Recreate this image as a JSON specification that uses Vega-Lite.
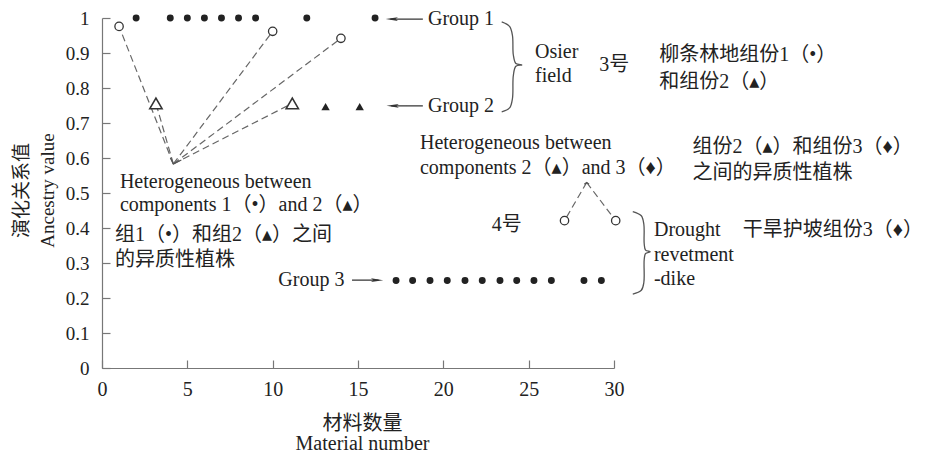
{
  "$schema": "https://vega.github.io/schema/vega-lite/v6.json",
  "width": 512,
  "height": 350,
  "autosize": {"type": "none"},
  "padding": {"left": 102, "top": 18, "right": 318, "bottom": 86},
  "background": "white",
  "config": {
    "view": {"stroke": null},
    "font": "Liberation Serif, Noto Sans CJK SC",
    "axis": {"labelOverlap": false, "labelBound": false, "labelFlush": false, "labelSeparation": 0}
  },
  "datasets": {
    "points": [
      {"x": 2, "y": 1, "kind": "fc"}, {"x": 4, "y": 1, "kind": "fc"}, {"x": 5, "y": 1, "kind": "fc"},
      {"x": 6, "y": 1, "kind": "fc"}, {"x": 7, "y": 1, "kind": "fc"}, {"x": 8, "y": 1, "kind": "fc"},
      {"x": 9, "y": 1, "kind": "fc"}, {"x": 12, "y": 1, "kind": "fc"}, {"x": 16, "y": 1, "kind": "fc"},
      {"x": 17.23, "y": 0.25, "kind": "fc"}, {"x": 18.2, "y": 0.25, "kind": "fc"}, {"x": 19.22, "y": 0.25, "kind": "fc"},
      {"x": 20.23, "y": 0.25, "kind": "fc"}, {"x": 21.27, "y": 0.25, "kind": "fc"}, {"x": 22.28, "y": 0.25, "kind": "fc"},
      {"x": 23.32, "y": 0.25, "kind": "fc"}, {"x": 24.3, "y": 0.25, "kind": "fc"}, {"x": 25.31, "y": 0.25, "kind": "fc"},
      {"x": 26.33, "y": 0.25, "kind": "fc"}, {"x": 28.24, "y": 0.25, "kind": "fc"}, {"x": 29.26, "y": 0.25, "kind": "fc"},
      {"x": 1, "y": 0.976, "kind": "oc"}, {"x": 10, "y": 0.962, "kind": "oc"}, {"x": 14, "y": 0.942, "kind": "oc"},
      {"x": 27.1, "y": 0.421, "kind": "oc"}, {"x": 30.1, "y": 0.421, "kind": "oc"},
      {"x": 3.16, "y": 0.756, "kind": "ot"}, {"x": 11.15, "y": 0.756, "kind": "ot"},
      {"x": 13.1, "y": 0.747, "kind": "ft"}, {"x": 15.1, "y": 0.747, "kind": "ft"}
    ],
    "segs": [
      {"x": 4.18, "y": 0.583, "x2": 1, "y2": 0.976, "kind": "dash"},
      {"x": 4.18, "y": 0.583, "x2": 3.16, "y2": 0.756, "kind": "dash"},
      {"x": 4.18, "y": 0.583, "x2": 10, "y2": 0.962, "kind": "dash"},
      {"x": 4.18, "y": 0.583, "x2": 14, "y2": 0.942, "kind": "dash"},
      {"x": 4.18, "y": 0.583, "x2": 11.15, "y2": 0.756, "kind": "dash"},
      {"x": 28.4, "y": 0.53, "x2": 27.1, "y2": 0.421, "kind": "dash"},
      {"x": 28.4, "y": 0.53, "x2": 30.1, "y2": 0.421, "kind": "dash"},
      {"x": 16.9, "y": 0.997, "x2": 18.8, "y2": 0.997, "kind": "solid"},
      {"x": 16.95, "y": 0.749, "x2": 18.8, "y2": 0.749, "kind": "solid"},
      {"x": 14.65, "y": 0.251, "x2": 16.2, "y2": 0.251, "kind": "solid"}
    ],
    "heads": [
      {"x": 16.98, "y": 0.997, "dir": "left"},
      {"x": 17.03, "y": 0.749, "dir": "left"},
      {"x": 16.12, "y": 0.251, "dir": "right"}
    ],
    "chevrons": [
      {"x": 4.18, "y": 0.583},
      {"x": 28.4, "y": 0.53}
    ],
    "braces": [
      {"b": 1, "o": 1, "x": 23.42, "y": 0.989}, {"b": 1, "o": 2, "x": 23.88, "y": 0.976},
      {"b": 1, "o": 3, "x": 24.05, "y": 0.95}, {"b": 1, "o": 4, "x": 24.1, "y": 0.895},
      {"b": 1, "o": 5, "x": 24.25, "y": 0.87}, {"b": 1, "o": 6, "x": 24.6, "y": 0.866},
      {"b": 1, "o": 7, "x": 24.25, "y": 0.862}, {"b": 1, "o": 8, "x": 24.1, "y": 0.835},
      {"b": 1, "o": 9, "x": 24.05, "y": 0.77}, {"b": 1, "o": 10, "x": 23.88, "y": 0.743},
      {"b": 1, "o": 11, "x": 23.42, "y": 0.732},
      {"b": 2, "o": 1, "x": 31.1, "y": 0.447}, {"b": 2, "o": 2, "x": 31.6, "y": 0.435},
      {"b": 2, "o": 3, "x": 31.75, "y": 0.41}, {"b": 2, "o": 4, "x": 31.77, "y": 0.355},
      {"b": 2, "o": 5, "x": 31.85, "y": 0.337}, {"b": 2, "o": 6, "x": 32.12, "y": 0.332},
      {"b": 2, "o": 7, "x": 31.85, "y": 0.327}, {"b": 2, "o": 8, "x": 31.77, "y": 0.31},
      {"b": 2, "o": 9, "x": 31.75, "y": 0.245}, {"b": 2, "o": 10, "x": 31.6, "y": 0.222},
      {"b": 2, "o": 11, "x": 31.1, "y": 0.211}
    ],
    "texts": [
      {"t": "Group 1", "x": 19.1, "y": 0.996},
      {"t": "Group 2", "x": 19.1, "y": 0.749},
      {"t": "Osier", "x": 25.37, "y": 0.904},
      {"t": "field", "x": 25.37, "y": 0.834},
      {"t": "3号", "x": 29.14, "y": 0.866},
      {"t": "柳条林地组份1（•）", "x": 32.65, "y": 0.894},
      {"t": "和组份2（▴）", "x": 32.65, "y": 0.818},
      {"t": "Heterogeneous between", "x": 18.63, "y": 0.642},
      {"t": "components 2（▴）and 3（♦）", "x": 18.63, "y": 0.571},
      {"t": "组份2（▴）和组份3（♦）", "x": 34.6, "y": 0.632},
      {"t": "之间的异质性植株", "x": 34.6, "y": 0.556},
      {"t": "Heterogeneous between", "x": 1.05, "y": 0.532},
      {"t": "components 1（•）and 2（▴）", "x": 1.05, "y": 0.466},
      {"t": "组1（•）和组2（▴）之间", "x": 0.76, "y": 0.38},
      {"t": "的异质性植株", "x": 0.76, "y": 0.309},
      {"t": "Group 3", "x": 10.33, "y": 0.251},
      {"t": "4号", "x": 22.83, "y": 0.409},
      {"t": "Drought", "x": 32.34, "y": 0.394},
      {"t": "revetment", "x": 32.34, "y": 0.323},
      {"t": "-dike", "x": 32.34, "y": 0.253},
      {"t": "干旱护坡组份3（♦）", "x": 37.54, "y": 0.394}
    ]
  },
  "layer": [
    {
      "data": {"name": "segs"},
      "mark": {"type": "rule", "strokeWidth": 1.2},
      "encoding": {
        "x": {
          "field": "x", "type": "quantitative",
          "scale": {"domain": [0, 30], "nice": false, "zero": false},
          "axis": {
            "values": [0, 5, 10, 15, 20, 25, 30],
            "grid": false, "labelOverlap": false,
            "domainColor": "#777", "tickColor": "#777", "domainWidth": 1.2, "tickWidth": 1.2,
            "tickSize": -8, "labelPadding": 19,
            "labelFont": "Liberation Serif", "labelFontSize": 20, "labelColor": "#222",
            "title": ["材料数量", "Material number"],
            "titleFont": "Liberation Serif, Noto Sans CJK SC", "titleFontSize": 20, "titleFontWeight": "normal",
            "titleColor": "#222", "titleLineHeight": 20,
            "titleX": 260, "titleY": 45, "titleAlign": "center", "titleBaseline": "top"
          }
        },
        "y": {
          "field": "y", "type": "quantitative",
          "scale": {"domain": [0, 1], "nice": false, "zero": false},
          "axis": {
            "tickCount": 10,
            "format": "~g",
            "grid": false, "labelOverlap": false,
            "domainColor": "#777", "tickColor": "#777", "domainWidth": 1.2, "tickWidth": 1.2,
            "tickSize": -8, "labelPadding": 21,
            "labelFont": "Liberation Serif", "labelFontSize": 19, "labelColor": "#222",
            "title": ["演化关系值", "Ancestry value"],
            "titleFont": "Liberation Serif, Noto Sans CJK SC", "titleFontSize": 19, "titleFontWeight": "normal",
            "titleColor": "#222", "titleLineHeight": 26,
            "titleX": -90, "titleY": 172, "titleAlign": "center", "titleBaseline": "top", "titleAngle": -90
          }
        },
        "x2": {"field": "x2"},
        "y2": {"field": "y2"},
        "strokeDash": {
          "field": "kind", "type": "nominal",
          "scale": {"domain": ["dash", "solid"], "range": [[7, 4], [1, 0]]},
          "legend": null
        },
        "color": {
          "field": "kind", "type": "nominal",
          "scale": {"domain": ["dash", "solid"], "range": ["#666", "#333"]},
          "legend": null
        }
      }
    },
    {
      "data": {"name": "heads"},
      "mark": {"type": "point", "filled": true, "size": 150, "color": "#333", "opacity": 1},
      "encoding": {
        "x": {"field": "x", "type": "quantitative"},
        "y": {"field": "y", "type": "quantitative"},
        "shape": {
          "field": "dir", "type": "nominal",
          "scale": {"domain": ["left", "right"], "range": ["M-1,0L1,-0.3L0.6,0L1,0.3Z", "M1,0L-1,-0.3L-0.6,0L-1,0.3Z"]},
          "legend": null
        }
      }
    },
    {
      "data": {"name": "chevrons"},
      "transform": [{"filter": "datum.x < 10"}],
      "mark": {"type": "point", "filled": false, "shape": "M-0.6,-1.2L0,0L1.6,-0.8", "size": 100, "stroke": "#555", "strokeWidth": 1.2, "opacity": 1},
      "encoding": {
        "x": {"field": "x", "type": "quantitative"},
        "y": {"field": "y", "type": "quantitative"}
      }
    },
    {
      "data": {"name": "chevrons"},
      "transform": [{"filter": "datum.x > 10"}],
      "mark": {"type": "point", "filled": false, "shape": "M-0.8,0.6L0,0L0.8,0.6", "size": 36, "stroke": "#555", "strokeWidth": 1.2, "opacity": 1},
      "encoding": {
        "x": {"field": "x", "type": "quantitative"},
        "y": {"field": "y", "type": "quantitative"}
      }
    },
    {
      "data": {"name": "braces"},
      "mark": {"type": "line", "interpolate": "catmull-rom", "color": "#555", "strokeWidth": 1.3},
      "encoding": {
        "x": {"field": "x", "type": "quantitative"},
        "y": {"field": "y", "type": "quantitative"},
        "detail": {"field": "b"},
        "order": {"field": "o", "type": "quantitative"}
      }
    },
    {
      "data": {"name": "points"},
      "transform": [{"filter": "datum.kind == 'fc'"}],
      "mark": {"type": "point", "shape": "circle", "filled": true, "size": 48, "color": "#222", "opacity": 1},
      "encoding": {
        "x": {"field": "x", "type": "quantitative"},
        "y": {"field": "y", "type": "quantitative"}
      }
    },
    {
      "data": {"name": "points"},
      "transform": [{"filter": "datum.kind == 'oc'"}],
      "mark": {"type": "point", "shape": "circle", "fill": "white", "stroke": "#333", "strokeWidth": 1.3, "size": 70, "opacity": 1, "fillOpacity": 1},
      "encoding": {
        "x": {"field": "x", "type": "quantitative"},
        "y": {"field": "y", "type": "quantitative"}
      }
    },
    {
      "data": {"name": "points"},
      "transform": [{"filter": "datum.kind == 'ot'"}],
      "mark": {"type": "point", "shape": "triangle-up", "fill": "white", "stroke": "#333", "strokeWidth": 1.6, "size": 150, "opacity": 1, "fillOpacity": 1},
      "encoding": {
        "x": {"field": "x", "type": "quantitative"},
        "y": {"field": "y", "type": "quantitative"}
      }
    },
    {
      "data": {"name": "points"},
      "transform": [{"filter": "datum.kind == 'ft'"}],
      "mark": {"type": "point", "shape": "triangle-up", "filled": true, "color": "#222", "size": 70, "opacity": 1},
      "encoding": {
        "x": {"field": "x", "type": "quantitative"},
        "y": {"field": "y", "type": "quantitative"}
      }
    },
    {
      "data": {"name": "texts"},
      "mark": {"type": "text", "align": "left", "baseline": "middle", "fontSize": 20, "font": "Liberation Serif, DejaVu Serif, Noto Sans CJK SC", "color": "#222"},
      "encoding": {
        "x": {"field": "x", "type": "quantitative"},
        "y": {"field": "y", "type": "quantitative"},
        "text": {"field": "t"}
      }
    }
  ]
}
